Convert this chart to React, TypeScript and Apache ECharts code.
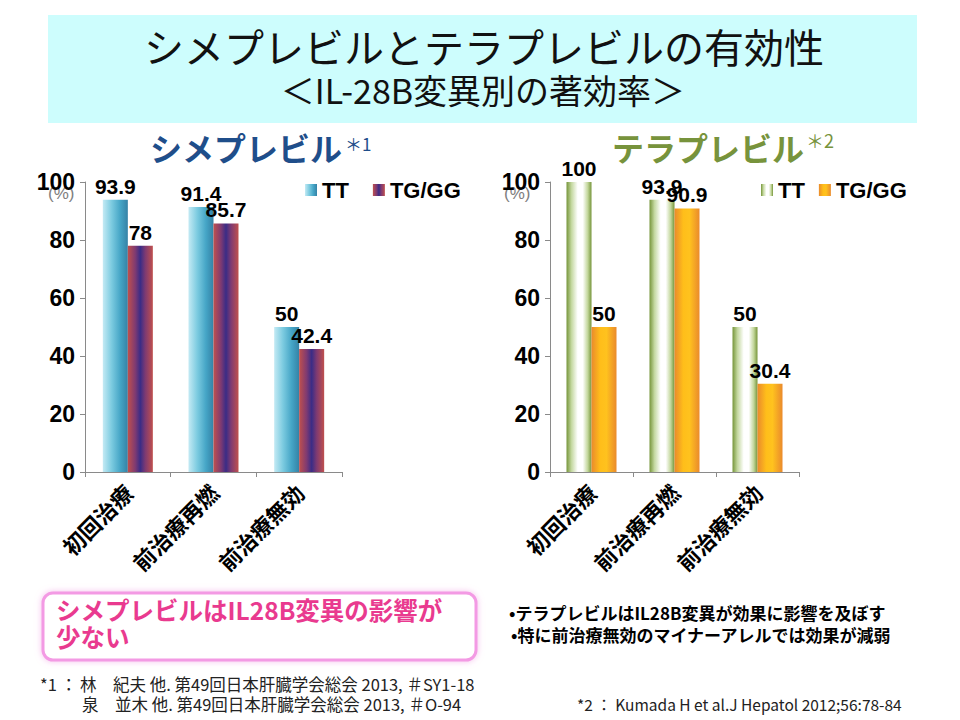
import React, { useEffect, useRef } from "react";
import * as echarts from "echarts";

const categories = ["初回治療", "前治療再燃", "前治療無効"];
const simeprevirTT = [93.9, 91.4, 50];
const simeprevirTG = [78, 85.7, 42.4];
const telaprevirTT = [100, 93.9, 50];
const telaprevirTG = [50, 90.9, 30.4];
const yMin = 0;
const yMax = 100;
const yInterval = 20;

const FONT = "'Liberation Sans', Arial, 'Noto Sans CJK JP', sans-serif";
const CJK = "'Noto Sans CJK JP', 'Liberation Sans', sans-serif";

const grad = (stops: [number, string][]) =>
  new echarts.graphic.LinearGradient(
    0, 0, 1, 0,
    stops.map(([offset, color]) => ({ offset, color }))
  );

const simTTColor = grad([[0, "#c4eaf4"], [0.35, "#7ccbe0"], [0.7, "#45a5c6"], [1, "#3582a6"]]);
const simTGColor = grad([[0, "#c0504d"], [0.3, "#7e3a72"], [0.5, "#3a2c86"], [0.7, "#7e3a72"], [1, "#c0504d"]]);
const telTTColor = grad([[0, "#76953a"], [0.2, "#c4d8a0"], [0.45, "#ffffff"], [0.65, "#ffffff"], [0.85, "#c2d69a"], [1, "#76953a"]]);
const telTGColor = grad([[0, "#ea8a2c"], [0.35, "#ffbe1a"], [0.6, "#ffc21e"], [1, "#ea8a2c"]]);

const axisLineStyle = { color: "#8a8a8a", width: 1 };

function makeXAxis(gridIndex: number) {
  return {
    type: "category",
    gridIndex,
    data: categories,
    axisLine: { lineStyle: axisLineStyle },
    axisTick: { show: true, length: 5, lineStyle: axisLineStyle },
    axisLabel: {
      rotate: 45,
      margin: 16,
      interval: 0,
      color: "#000",
      fontSize: 22,
      fontWeight: "bold",
      fontFamily: CJK,
    },
  };
}

function makeYAxis(gridIndex: number) {
  return {
    type: "value",
    gridIndex,
    min: yMin,
    max: yMax,
    interval: yInterval,
    axisLine: { show: true, lineStyle: axisLineStyle },
    axisTick: { show: true, length: 5, lineStyle: axisLineStyle },
    splitLine: { show: false },
    axisLabel: {
      margin: 10,
      color: "#000",
      fontSize: 23,
      fontWeight: "bold",
      fontFamily: FONT,
    },
  };
}

const labelStyle = {
  show: true,
  position: "top",
  distance: 3,
  color: "#000",
  fontSize: 21,
  fontWeight: "bold",
  fontFamily: FONT,
};

function makeBar(name: string, data: number[], color: any, axisIndex: number) {
  return {
    type: "bar",
    name,
    data,
    xAxisIndex: axisIndex,
    yAxisIndex: axisIndex,
    barWidth: 25,
    barGap: "0%",
    itemStyle: { color },
    label: labelStyle,
  };
}

const legendText = {
  color: "#000",
  fontSize: 22,
  fontWeight: "bold",
  fontFamily: FONT,
};

function txt(text: string, x: number, y: number, fill: string, font: string, align = "left") {
  return {
    type: "text",
    style: { text, x, y, textAlign: align, textVerticalAlign: "middle", fill, font },
  };
}

export default function App() {
  const ref = useRef<HTMLDivElement>(null);

  useEffect(() => {
    if (!ref.current) return;
    const chart = echarts.init(ref.current, null, { renderer: "svg", width: 960, height: 720 });

    const option: any = {
      animation: false,
      backgroundColor: "#ffffff",
      grid: [
        { left: 85, top: 182, width: 257, height: 290 },
        { left: 550, top: 182, width: 249, height: 290 },
      ],
      xAxis: [makeXAxis(0), makeXAxis(1)],
      yAxis: [makeYAxis(0), makeYAxis(1)],
      legend: [
        {
          data: ["TT", "TG/GG"],
          left: 300,
          top: 174,
          icon: "rect",
          itemWidth: 12,
          itemHeight: 12,
          itemGap: 24,
          textStyle: legendText,
          formatter: (n: string) => n.trim(),
        },
        {
          data: ["TT ", "TG/GG "],
          left: 756,
          top: 174,
          icon: "rect",
          itemWidth: 12,
          itemHeight: 12,
          itemGap: 14,
          textStyle: legendText,
          formatter: (n: string) => n.trim(),
        },
      ],
      series: [
        makeBar("TT", simeprevirTT, simTTColor, 0),
        makeBar("TG/GG", simeprevirTG, simTGColor, 0),
        makeBar("TT ", telaprevirTT, telTTColor, 1),
        makeBar("TG/GG ", telaprevirTG, telTGColor, 1),
      ],
      graphic: [
        {
          type: "rect",
          shape: { x: 48, y: 15, width: 869, height: 108 },
          style: { fill: "#cdfdfd" },
          z: 0,
        },
        txt("シメプレビルとテラプレビルの有効性", 484, 46, "#111", `normal 40px ${CJK}`, "center"),
        txt("＜IL-28B変異別の著効率＞", 483, 89, "#111", `normal 34px ${CJK}`, "center"),
        txt("シメプレビル", 150, 147, "#1f4e8a", `bold 32px ${CJK}`),
        txt("＊1", 345, 143, "#1f4e8a", `normal 17px ${CJK}`),
        txt("テラプレビル", 612, 147, "#77933c", `bold 32px ${CJK}`),
        txt("＊2", 806, 140, "#77933c", `normal 18px ${CJK}`),
        txt("(%)", 48, 193, "#808080", `normal 17px ${FONT}`),
        txt("(%)", 504, 193, "#808080", `normal 17px ${FONT}`),
        {
          type: "rect",
          shape: { x: 43, y: 593, width: 433, height: 67, r: 10 },
          style: {
            fill: "#ffffff",
            stroke: "#f39ae4",
            lineWidth: 3,
            shadowBlur: 6,
            shadowColor: "rgba(240,150,225,0.6)",
          },
        },
        txt("シメプレビルはIL28B変異の影響が", 56, 609, "#e93a8f", `bold 24.5px ${CJK}`),
        txt("少ない", 56, 636, "#e93a8f", `bold 24.5px ${CJK}`),
        txt("•テラプレビルはIL28B変異が効果に影響を及ぼす", 509, 612, "#000", `bold 17px ${CJK}`),
        txt("•特に前治療無効のマイナーアレルでは効果が減弱", 511, 634, "#000", `bold 17px ${CJK}`),
        txt("*1 ：", 40, 684, "#222", `normal 16.5px ${CJK}`),
        txt("林　紀夫 他. 第49回日本肝臓学会総会 2013, ＃SY1-18", 80, 684, "#222", `normal 16.5px ${CJK}`),
        txt("泉　並木 他. 第49回日本肝臓学会総会 2013, ＃O-94", 82, 704, "#222", `normal 16.5px ${CJK}`),
        txt("*2 ： Kumada H et al.J Hepatol 2012;56:78-84", 577, 704, "#222", `normal 15.5px ${CJK}`),
      ],
    };

    chart.setOption(option);
    return () => chart.dispose();
  }, []);

  return (
    <div
      ref={ref}
      style={{ position: "fixed", left: 0, top: 0, width: 960, height: 720 }}
    />
  );
}
